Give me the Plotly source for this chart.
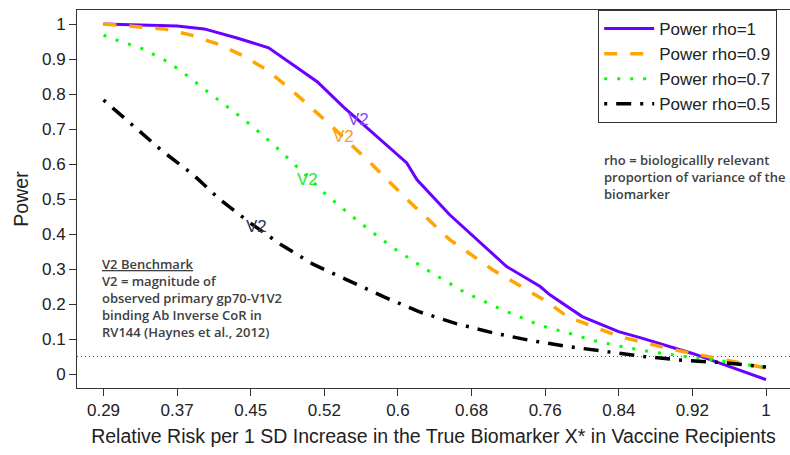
import plotly.graph_objects as go
import numpy as np

# ---- data ----
tick_labels = ["0.29", "0.37", "0.45", "0.52", "0.6", "0.68", "0.76", "0.84", "0.92", "1"]
tick_pos = list(np.linspace(0.29, 1.0, 10))
y_ticks = [0, 0.1, 0.2, 0.3, 0.4, 0.5, 0.6, 0.7, 0.8, 0.9, 1]
y_tick_labels = ["0", "0.1", "0.2", "0.3", "0.4", "0.5", "0.6", "0.7", "0.8", "0.9", "1"]

x_rho1 = [0.29, 0.369, 0.398, 0.433, 0.467, 0.519, 0.547, 0.615, 0.626, 0.661, 0.722, 0.758, 0.768, 0.803, 0.842, 0.865, 0.922, 1.0]
y_rho1 = [1.0, 0.994, 0.986, 0.960, 0.932, 0.835, 0.763, 0.603, 0.555, 0.455, 0.307, 0.250, 0.227, 0.164, 0.121, 0.104, 0.058, -0.016]

x_rho09 = [0.29, 0.323, 0.355, 0.383, 0.412, 0.44, 0.465, 0.489, 0.511, 0.533, 0.576, 0.618, 0.661, 0.707, 0.765, 0.787, 0.843, 0.9, 1.0]
y_rho09 = [1.0, 0.994, 0.986, 0.969, 0.943, 0.909, 0.869, 0.817, 0.763, 0.712, 0.603, 0.492, 0.384, 0.298, 0.207, 0.164, 0.107, 0.070, 0.017]

x_rho07 = [0.29, 0.304, 0.332, 0.359, 0.383, 0.406, 0.43, 0.453, 0.476, 0.497, 0.53, 0.565, 0.6, 0.638, 0.676, 0.717, 0.759, 0.787, 0.816, 0.846, 0.875, 0.905, 0.932, 0.963, 1.0]
y_rho07 = [0.968, 0.954, 0.929, 0.892, 0.846, 0.797, 0.749, 0.700, 0.646, 0.592, 0.509, 0.432, 0.361, 0.295, 0.235, 0.184, 0.138, 0.118, 0.095, 0.078, 0.064, 0.053, 0.044, 0.033, 0.019]

x_rho05 = [0.29, 0.32, 0.353, 0.385, 0.415, 0.447, 0.48, 0.515, 0.553, 0.59, 0.628, 0.668, 0.707, 0.747, 0.789, 0.83, 0.869, 0.911, 0.951, 1.0]
y_rho05 = [0.783, 0.712, 0.637, 0.572, 0.498, 0.432, 0.370, 0.313, 0.267, 0.221, 0.178, 0.144, 0.118, 0.096, 0.078, 0.064, 0.050, 0.039, 0.033, 0.020]

ref_power = 0.05

names = ["Power rho=1", "Power rho=0.9", "Power rho=0.7", "Power rho=0.5"]
colors = ["#6A00FF", "#FFA500", "#00FF00", "#000000"]
dashes = ["solid", "13px,13px", "3px,10px", "3px,9px,15px,9px"]
widths = [3, 3.5, 3, 3.5]
xs = [x_rho1, x_rho09, x_rho07, x_rho05]
ys = [y_rho1, y_rho09, y_rho07, y_rho05]

# V2 labels
v2_x = [0.563, 0.547, 0.509, 0.454]
v2_y = [0.726, 0.678, 0.555, 0.421]
v2_colors = ["#8A4CF5", "#F5A030", "#22EE22", "#2B3A55"]

FONT = "Liberation Sans"

fig = go.Figure()
for x, y, n, c, d, w in zip(xs, ys, names, colors, dashes, widths):
    fig.add_trace(go.Scatter(x=x, y=y, name=n, mode="lines",
                             line=dict(color=c, dash=d, width=w)))

fig.add_shape(type="line", xref="paper", x0=0, x1=1, yref="y", y0=ref_power, y1=ref_power,
              line=dict(color="#555555", width=1, dash="1px,3px"), layer="below")

for x, y, c in zip(v2_x, v2_y, v2_colors):
    fig.add_annotation(x=x, y=y, text="V2", showarrow=False,
                       font=dict(family=FONT, size=17, color=c))

fig.add_annotation(xref="paper", yref="paper", x=0.032, y=0.356, xanchor="left", yanchor="top",
                   align="left", showarrow=False,
                   text="<u>V2 Benchmark</u><br>V2 = magnitude of<br>observed primary gp70-V1V2<br>binding Ab Inverse CoR in<br>RV144 (Haynes et al., 2012)",
                   font=dict(family="Open Sans", size=13, color="#404040", weight=600))

fig.add_annotation(xref="paper", yref="paper", x=0.736, y=0.632, xanchor="left", yanchor="top",
                   align="left", showarrow=False,
                   text="rho = biologicallly relevant<br>proportion of variance of the<br>biomarker",
                   font=dict(family="Open Sans", size=13, color="#404040", weight=600))

fig.update_layout(
    width=790, height=455,
    margin=dict(l=77, r=0, t=10, b=67),
    plot_bgcolor="white", paper_bgcolor="white",
    font=dict(family=FONT, size=17, color="#222222"),
    showlegend=True,
    legend=dict(x=0.731, y=1, xanchor="left", yanchor="top",
                bordercolor="#333333", borderwidth=1, bgcolor="white",
                font=dict(family=FONT, size=17, color="#222222"),
                itemwidth=50, tracegroupgap=0),
)
fig.update_xaxes(range=[0.2616, 1.0257], tickmode="array", tickvals=tick_pos, ticktext=tick_labels,
                 showgrid=False, zeroline=False, showline=True, mirror=True, linecolor="#333333",
                 ticks="outside", ticklen=7, tickcolor="#333333", tickfont=dict(family=FONT, size=17),
                 title=dict(text="Relative Risk per 1 SD Increase in the True Biomarker X* in Vaccine Recipients",
                            standoff=9, font=dict(family=FONT, size=19.5, color="#222222")))
fig.update_yaxes(range=[-0.04, 1.04], tickmode="array", tickvals=y_ticks, ticktext=y_tick_labels,
                 showgrid=False, zeroline=False, showline=True, mirror=True, linecolor="#333333",
                 ticks="outside", ticklen=7, tickcolor="#333333", tickfont=dict(family=FONT, size=17),
                 title=dict(text="Power", standoff=8, font=dict(family=FONT, size=19.5, color="#222222")))

fig.write_html("out.html")
